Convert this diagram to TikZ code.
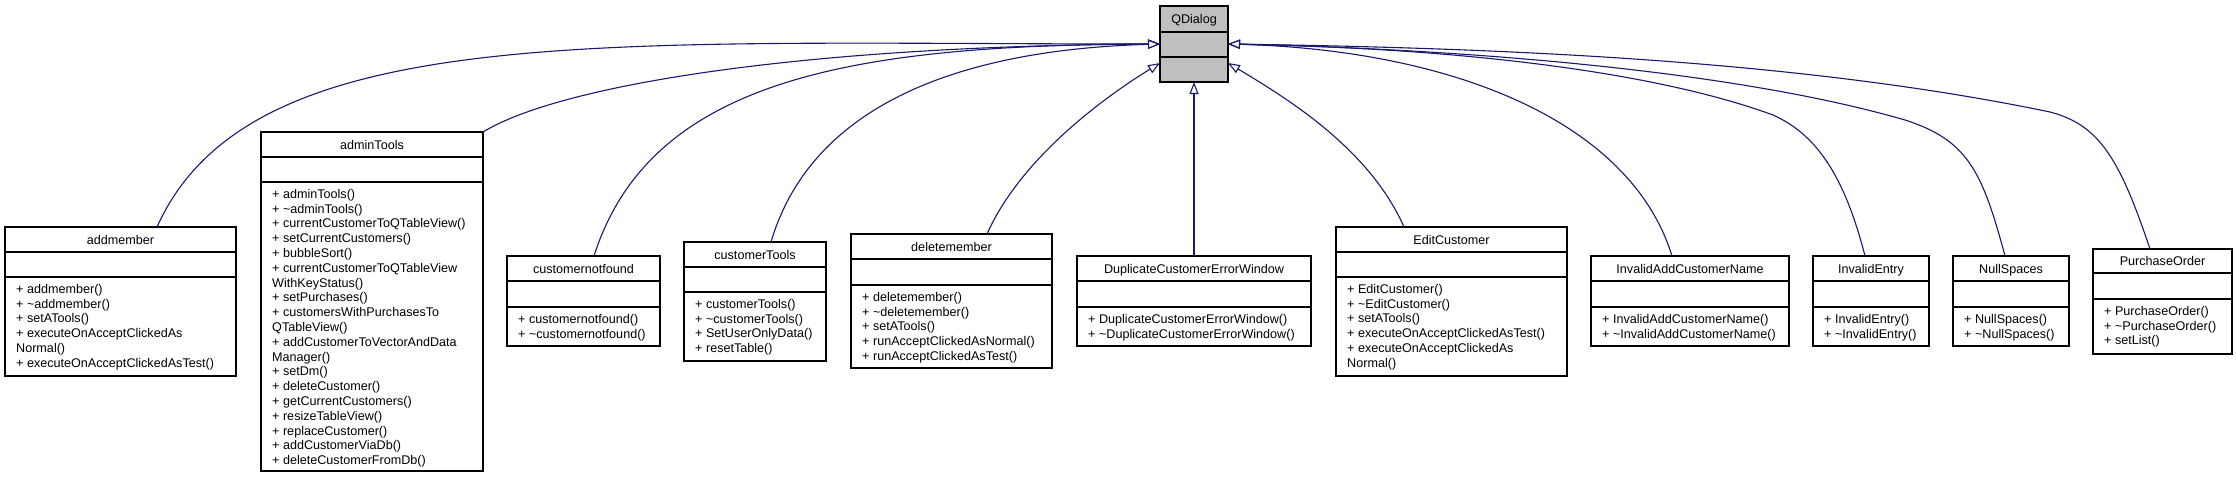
\documentclass[tikz,border=0pt]{standalone}
\usepackage{fontspec}
\setmainfont{Liberation Sans}
\usetikzlibrary{arrows.meta}
\definecolor{edgecol}{HTML}{191970}
\definecolor{qgray}{HTML}{BFBFBF}
\tikzset{
  clsbox/.style={draw=black, line width=1.2pt, fill=white, inner sep=0pt, outer sep=0pt},
  divline/.style={draw=black, line width=1.2pt},
  titletext/.style={anchor=base, inner sep=0pt, font=\fontsize{12.6}{14.8}\selectfont},
  methtext/.style={anchor=north west, inner sep=0pt, align=left, font=\fontsize{12.6}{14.8}\selectfont},
  inh/.style={draw=edgecol, line width=1.1pt, -{Triangle[length=12pt, width=9pt, fill=white]}},
}
% name, left, top, right, bottom, divider1, divider2, title, methods
\newcommand{\umlcls}[9]{%
  \node[clsbox, minimum width={(#4-#2)*1pt}, minimum height={(#5-#3)*1pt}] (#1) at ({(#2+#4)/2},{(#3+#5)/2}) {};
  \draw[divline] (#2,#6) -- (#4,#6) (#2,#7) -- (#4,#7);
  \node[titletext] (#1-t) at ({(#2+#4)/2},{(#3+#6)/2+4.5}) {#8};
  \node[methtext] (#1-m) at (#2+11,#7+6) {\rule{0pt}{10pt}#9};
}
\begin{document}
\begin{tikzpicture}[x=1pt, y=-1pt]
\useasboundingbox[fill=white] (0,0) rectangle (2236,477);

% QDialog
\node[clsbox, fill=qgray, minimum width=68pt, minimum height=76pt] (qdialog) at (1194,44) {};
\draw[divline] (1160,32) -- (1228,32) (1160,57) -- (1228,57);
\node[titletext] (qdialog-t) at (1194,23.5) {QDialog};

\umlcls{addmember}{5}{227}{236}{376}{252}{277}{addmember}{+ addmember()\\+ \textasciitilde{}addmember()\\+ setATools()\\+ executeOnAcceptClickedAs\\Normal()\\+ executeOnAcceptClickedAsTest()}

\umlcls{admintools}{261}{132}{483}{471}{157}{182}{adminTools}{+ adminTools()\\+ \textasciitilde{}adminTools()\\+ currentCustomerToQTableView()\\+ setCurrentCustomers()\\+ bubbleSort()\\+ currentCustomerToQTableView\\WithKeyStatus()\\+ setPurchases()\\+ customersWithPurchasesTo\\QTableView()\\+ addCustomerToVectorAndData\\Manager()\\+ setDm()\\+ deleteCustomer()\\+ getCurrentCustomers()\\+ resizeTableView()\\+ replaceCustomer()\\+ addCustomerViaDb()\\+ deleteCustomerFromDb()}

\umlcls{cnf}{507}{256}{660}{346}{281}{307}{customernotfound}{+ customernotfound()\\+ \textasciitilde{}customernotfound()}

\umlcls{ctools}{684}{242}{826}{361}{267}{292}{customerTools}{+ customerTools()\\+ \textasciitilde{}customerTools()\\+ SetUserOnlyData()\\+ resetTable()}

\umlcls{delm}{851}{234}{1052}{368}{259}{285}{deletemember}{+ deletemember()\\+ \textasciitilde{}deletemember()\\+ setATools()\\+ runAcceptClickedAsNormal()\\+ runAcceptClickedAsTest()}

\umlcls{dup}{1077}{256}{1311}{346}{281}{307}{DuplicateCustomerErrorWindow}{+ DuplicateCustomerErrorWindow()\\+ \textasciitilde{}DuplicateCustomerErrorWindow()}

\umlcls{editc}{1336}{227}{1567}{376}{252}{277}{EditCustomer}{+ EditCustomer()\\+ \textasciitilde{}EditCustomer()\\+ setATools()\\+ executeOnAcceptClickedAsTest()\\+ executeOnAcceptClickedAs\\Normal()}

\umlcls{iacn}{1591}{256}{1789}{346}{281}{307}{InvalidAddCustomerName}{+ InvalidAddCustomerName()\\+ \textasciitilde{}InvalidAddCustomerName()}

\umlcls{ientry}{1813}{256}{1929}{346}{281}{307}{InvalidEntry}{+ InvalidEntry()\\+ \textasciitilde{}InvalidEntry()}

\umlcls{nulls}{1953}{256}{2069}{346}{281}{307}{NullSpaces}{+ NullSpaces()\\+ \textasciitilde{}NullSpaces()}

\umlcls{porder}{2093}{249}{2232}{354}{273}{299}{PurchaseOrder}{+ PurchaseOrder()\\+ \textasciitilde{}PurchaseOrder()\\+ setList()}

% inheritance connectors
\draw[inh] ([xshift=152pt]addmember.north west) .. controls (250,20) and (600,44) .. (qdialog.west);
\draw[inh] (admintools.north east) .. controls (560,85) and (800,46) .. (qdialog.west);
\draw[inh] ([xshift=87pt]cnf.north west) .. controls (650,80) and (850,45) .. (qdialog.west);
\draw[inh] ([xshift=87pt]ctools.north west) .. controls (810,110) and (950,50) .. (qdialog.west);
\draw[inh] ([xshift=136pt]delm.north west) .. controls (1020,160) and (1100,100) .. ([yshift=-19pt]qdialog.west);
\draw[inh] (dup.north) -- (qdialog.south);
\draw[inh] ([xshift=68pt]editc.north west) .. controls (1370,150) and (1290,100) .. ([yshift=-19pt]qdialog.east);
\draw[inh] ([xshift=81pt]iacn.north west) .. controls (1630,120) and (1450,50) .. (qdialog.east);
\draw[inh] ([xshift=52pt]ientry.north west) .. controls (1843,170) and (1813,133) .. (1773,115) .. controls (1650,70) and (1450,48) .. (qdialog.east);
\draw[inh] ([xshift=52pt]nulls.north west) .. controls (1982,170) and (1967,140) .. (1905,120) .. controls (1750,75) and (1500,50) .. (qdialog.east);
\draw[inh] ([xshift=57pt]porder.north west) .. controls (2120,160) and (2100,125) .. (2050,112) .. controls (1800,60) and (1500,48) .. (qdialog.east);
\end{tikzpicture}
\end{document}
